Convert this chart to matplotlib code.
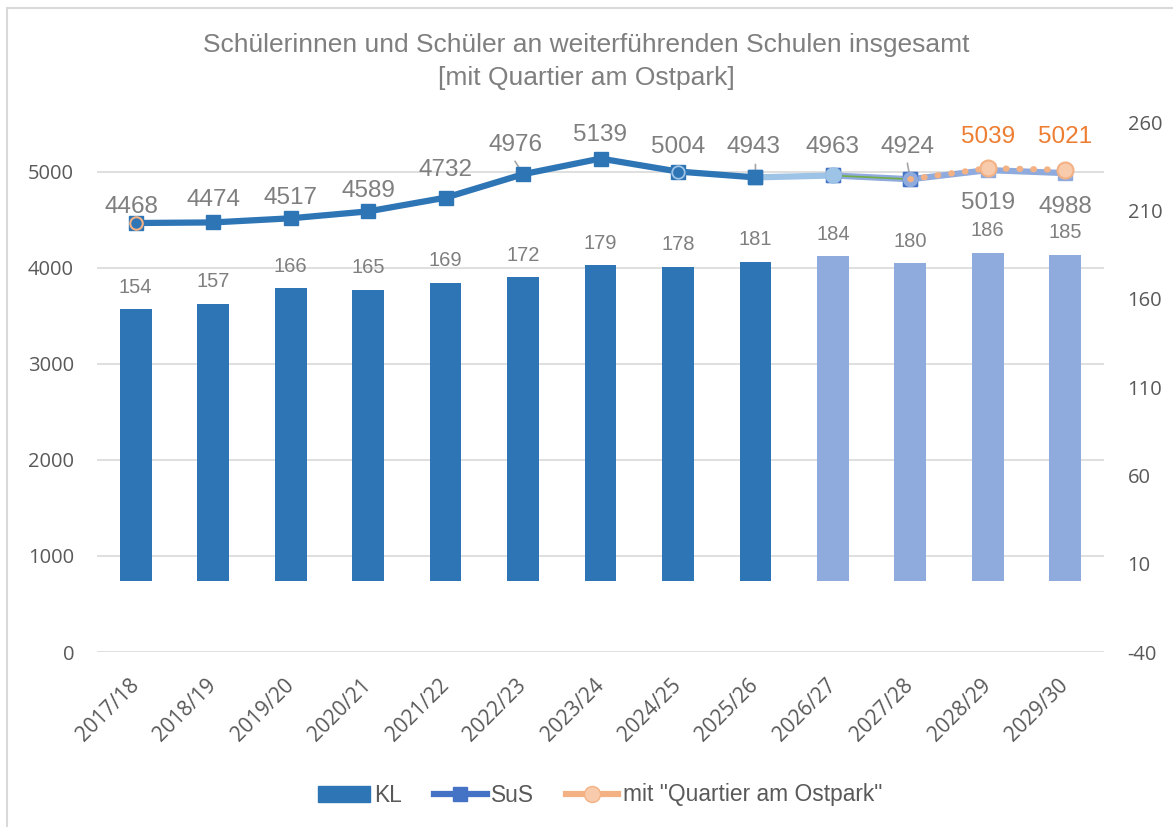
import numpy as np
import matplotlib
matplotlib.use("Agg")
import matplotlib.pyplot as plt
from matplotlib.patches import Rectangle, Patch
from matplotlib.lines import Line2D
from matplotlib.transforms import blended_transform_factory

plt.rcParams['font.family'] = ['Liberation Sans', 'DejaVu Sans']
plt.rcParams['axes.unicode_minus'] = False

# data
years = ["2017/18", "2018/19", "2019/20", "2020/21", "2021/22", "2022/23", "2023/24",
         "2024/25", "2025/26", "2026/27", "2027/28", "2028/29", "2029/30"]
kl = [154, 157, 166, 165, 169, 172, 179, 178, 181, 184, 180, 186, 185]
sus = [4468, 4474, 4517, 4589, 4732, 4976, 5139, 5004, 4943, 4963, 4924, 5019, 4988]
quartier_years = ["2027/28", "2028/29", "2029/30"]
quartier = [4924, 5039, 5021]

n_actual = 9  # 2017/18 .. 2025/26 are actual values, rest projection

# label offsets in pixels (layout only)
sus_off = [16, 22, 20, 20, 28, 29, 24, 25, 30, 28, 32, -33, -34]
sus_dx = [-4, 0, 0, 0, 0, -8, 0, 0, -2, 0, -3, 0, 0]
q_off = [0, 31, 33]

dark = '#2e75b6'
light = '#8faadc'
pale = '#9dc3e6'
grey = '#7f7f7f'
tick_c = '#595959'
orange = '#ed7d31'

fig = plt.figure(figsize=(11.73, 8.27), dpi=100)
fig.patches.append(Rectangle((7 / 1173, -0.1), 1.2, 1 - 8 / 827 + 0.1, transform=fig.transFigure,
                             fill=False, edgecolor='#d9d9d9', linewidth=1.5))

ax = fig.add_axes([97 / 1173, 1 - 652 / 827, 1007 / 1173, 530 / 827])
ax2 = ax.twinx()

x = np.arange(len(years))
xq = np.array([years.index(y) for y in quartier_years])

ax.set_xlim(-0.5, len(years) - 0.5)
ax.set_ylim(0, 5520)
ax.set_yticks(np.arange(0, 5001, 1000))

# gridlines of the left axis, drawn behind the bars
trans = blended_transform_factory(ax2.transAxes, ax.transData)
for v in ax.get_yticks():
    ax2.plot([0, 1], [v, v], transform=trans, color='#d9d9d9', lw=1.2, zorder=0)

# bars on secondary axis
bar_cols = [dark if i < n_actual else light for i in range(len(years))]
ax2.bar(x, kl, width=0.41, color=bar_cols, zorder=2)
for i, v in enumerate(kl):
    ax2.annotate(str(v), (x[i], v), xytext=(0, 22), textcoords='offset pixels',
                 ha='center', va='center', fontsize=14.5, color=grey)

ax2.set_ylim(-40, 260)
ax2.set_yticks(np.arange(-40, 261, 50))

# lines on primary axis, drawn above bars
ax.set_zorder(ax2.get_zorder() + 1)
ax.patch.set_visible(False)

lw = 4.5
ax.plot(x[:n_actual], sus[:n_actual], color=dark, lw=lw, marker='s', ms=10.5,
        solid_joinstyle='round', zorder=4)
ax.plot(x[n_actual - 1:n_actual + 1], sus[n_actual - 1:n_actual + 1], color=pale, lw=lw, zorder=3)
ax.plot(x[n_actual:n_actual + 2], sus[n_actual:n_actual + 2], color=light, lw=lw, zorder=3)
ax.plot(x[n_actual:n_actual + 2], sus[n_actual:n_actual + 2], color='#70ad47', lw=1.2, zorder=3.5)
ax.plot(x[n_actual + 1:], sus[n_actual + 1:], color=light, lw=lw, zorder=4)
ax.plot(x[n_actual:], sus[n_actual:], ls='none', marker='s', ms=10.5,
        mfc=light, mec=light, zorder=4)
ax.plot(x[n_actual - 1], sus[n_actual - 1], marker='s', ms=10.5, color=dark, zorder=5)
ax.plot(x[n_actual:n_actual + 2], sus[n_actual:n_actual + 2], ls='none', marker='s', ms=10.5,
        color='#4472c4', zorder=5)
ax.plot(x[n_actual], sus[n_actual], marker='o', ms=11, mfc=pale, mec=pale, zorder=6)
ax.plot(x[7], sus[7], marker='o', ms=9, mfc=dark, mec=pale, mew=1.3, zorder=6)
ax.plot(x[10], sus[10], marker='o', ms=10, mfc=light, mec=light, zorder=6)
ax.plot(x[0], sus[0], marker='o', ms=9, mfc=dark, mec='#f4b183', mew=1.5, zorder=6)

# quartier series
ax.plot(xq, quartier, color='#f4b183', lw=lw, ls=(0, (0.1, 2.1)), dash_capstyle='round', zorder=7)
ax.plot(xq[1:], quartier[1:], ls='none', marker='o', ms=11.5, mfc='#f8cbad', mec='#f4b183',
        mew=1.5, zorder=8)

leader = {5: (-8, 13), 8: (0, 13), 10: (-3, 16)}
for i, v in enumerate(sus):
    ax.annotate(str(v), (x[i], v), xytext=(sus_dx[i], sus_off[i]), textcoords='offset pixels',
                ha='center', va='center', fontsize=17.5, color=grey, zorder=9)
for i in leader:
    dx, dy = leader[i]
    ax.annotate('', (x[i], sus[i]), xytext=(dx, dy), textcoords='offset pixels',
                arrowprops=dict(arrowstyle='-', color='#a6a6a6', lw=1.2, shrinkA=0, shrinkB=2))
for j in range(1, len(quartier)):
    ax.annotate(str(quartier[j]), (xq[j], quartier[j]), xytext=(0, q_off[j]),
                textcoords='offset pixels', ha='center', va='center', fontsize=17.5,
                color=orange, zorder=9)

ax.set_xticks(x)
ax.set_xticklabels(years, rotation=45, ha='right', va='center', rotation_mode='anchor',
                   family='Open Sans', fontsize=15)

for a in (ax, ax2):
    for s in a.spines.values():
        s.set_visible(False)
    a.tick_params(length=0, colors=tick_c)
for lab in ax.get_yticklabels() + ax2.get_yticklabels():
    lab.set_family('Open Sans')
    lab.set_fontsize(14.5)
ax.tick_params(axis='y', pad=16.5)
ax.tick_params(axis='x', pad=22)
ax2.tick_params(axis='y', pad=17)

fig.text(0.5, 1 - 45 / 827, "Schülerinnen und Schüler an weiterführenden Schulen insgesamt",
         ha='center', va='center', fontsize=19, color=grey)
fig.text(0.5, 1 - 78 / 827, "[mit Quartier am Ostpark]",
         ha='center', va='center', fontsize=19, color=grey)

handles = [Patch(color=dark),
           Line2D([], [], color='#4472c4', lw=lw, marker='s', ms=10.5),
           Line2D([], [], color='#f4b183', lw=lw, marker='o', ms=11.5, mfc='#f8cbad', mec='#f4b183')]
fig.legend(handles, ['KL', 'SuS', 'mit "Quartier am Ostpark"'], loc='center',
           bbox_to_anchor=(600 / 1173, 1 - 795 / 827), ncol=3, frameon=False, fontsize=16.4,
           labelcolor=tick_c, handlelength=2.3, handletextpad=0.2, columnspacing=1.4)

fig.savefig('out.png', dpi=100)
